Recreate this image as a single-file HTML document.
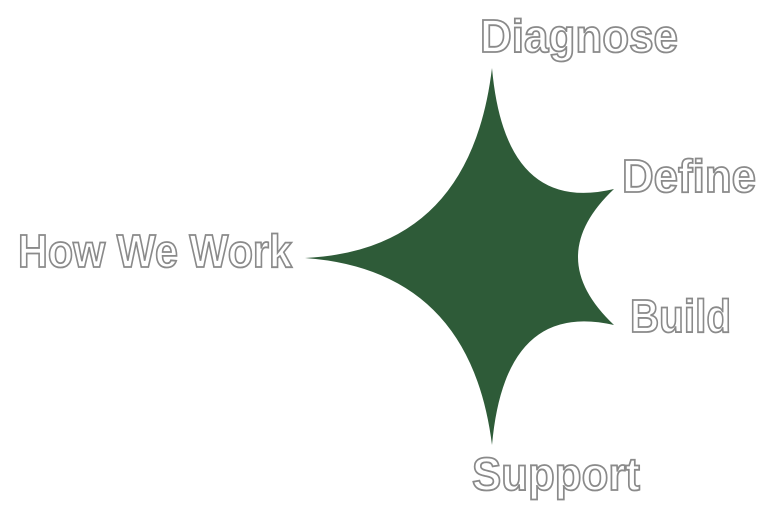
<!DOCTYPE html>
<html><head><meta charset="utf-8"><style>
html,body{margin:0;padding:0;background:#fff;width:784px;height:518px;overflow:hidden}
text{font-family:"Liberation Sans",sans-serif;font-weight:bold;fill:#fff;stroke:#8a8a8a;stroke-width:1.8px;font-size:46px}
</style></head><body>
<svg width="784" height="518" viewBox="0 0 784 518">
<path d="M492,68 Q505,215 614,189 Q542,257 614,325 Q505,300 492,445 Q470,270 305,258 Q470,250 492,68 Z" fill="#2e5b38"/>
<text x="480" y="52" textLength="198" lengthAdjust="spacingAndGlyphs">Diagnose</text>
<text x="622" y="192" textLength="134" lengthAdjust="spacingAndGlyphs">Define</text>
<text x="630" y="332" textLength="101" lengthAdjust="spacingAndGlyphs">Build</text>
<text x="18" y="267" textLength="274" lengthAdjust="spacingAndGlyphs">How We Work</text>
<text x="472" y="490" textLength="168" lengthAdjust="spacingAndGlyphs">Support</text>
</svg>
</body></html>
